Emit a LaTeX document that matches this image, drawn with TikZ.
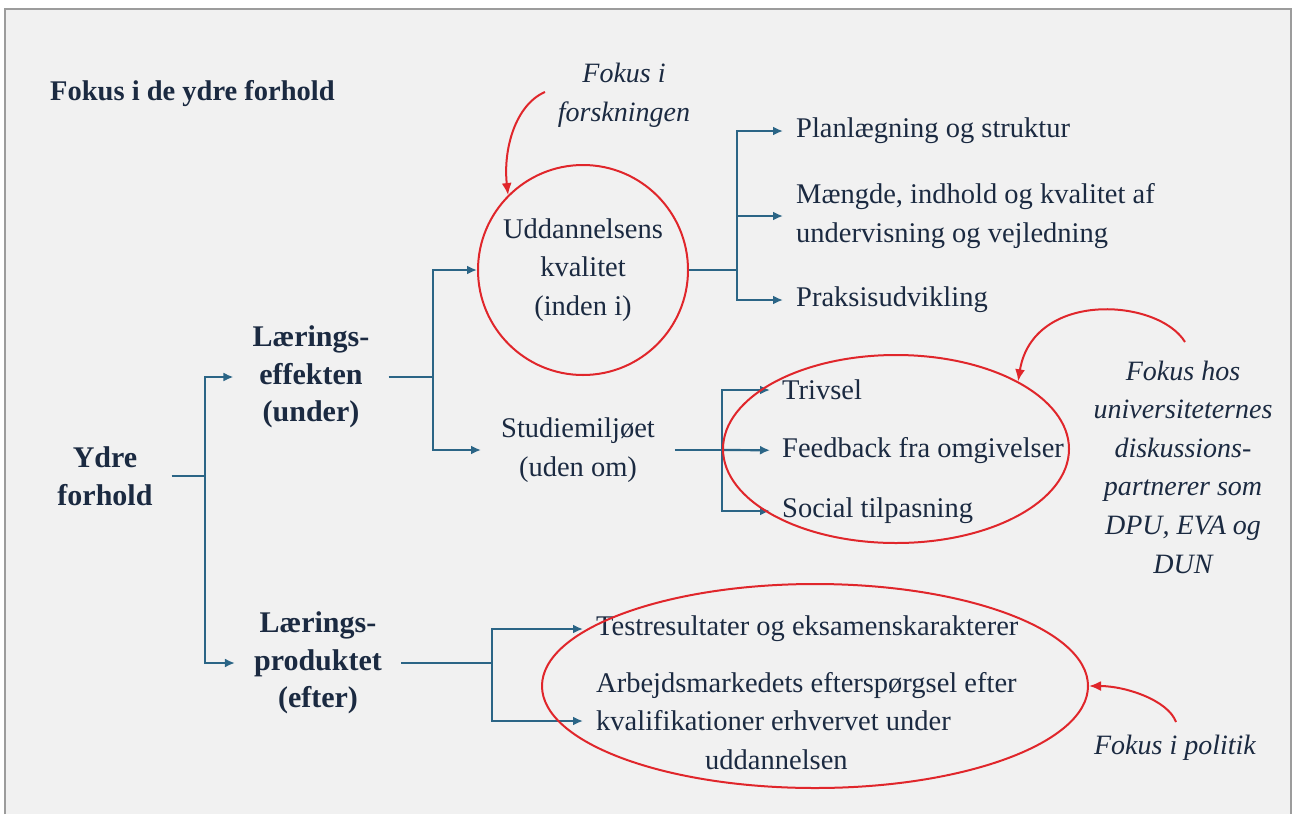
\documentclass[tikz,border=0pt]{standalone}
\usepackage{fontspec}
\setmainfont{Liberation Serif}
\usepackage{tikz}
\usetikzlibrary{shapes, arrows.meta}
\definecolor{ink}{HTML}{1B2A41}
\definecolor{linkblue}{HTML}{2B6586}
\definecolor{focusred}{HTML}{E0262B}
\definecolor{paper}{HTML}{F1F1F1}
\definecolor{rim}{HTML}{9C9C9C}
\tikzstyle{every node}=[text=ink, font=\fontsize{28.5}{38.5}\selectfont]
\tikzstyle{head}=[font=\bfseries\fontsize{30}{37.5}\selectfont, align=center, inner xsep=19pt]
\tikzstyle{mid}=[align=center, inner xsep=20pt]
\tikzstyle{leaf}=[anchor=west, align=left, inner xsep=13pt]
\tikzstyle{note}=[font=\itshape\fontsize{28}{38.6}\selectfont, align=center]
\tikzstyle{link}=[draw=linkblue, line width=2.2pt]
\tikzstyle{ring}=[draw=focusred, line width=2pt]
\tikzstyle{pointer}=[draw=focusred, line width=2pt, -{Latex[length=12pt,width=10pt]}]

\begin{document}
\begin{tikzpicture}[x=1pt,y=-1pt,>={Latex[length=10pt,width=9pt]}]
  \useasboundingbox (0,0) rectangle (1295,814);
  \fill[paper] (5,9) rectangle (1291,814);
  \draw[rim, line width=2pt] (5,814) -- (5,9) -- (1291,9) -- (1291,814);

  \node[anchor=west, inner sep=0pt, font=\bfseries\fontsize{28.5}{34}\selectfont] (title) at (50,94) {Fokus i de ydre forhold};

  % tree
  \node[head] (ydre) at (105,476) {Ydre\\forhold};
  \node[head] (effekt) at (311,377) {Lærings-\\effekten\\(under)};
  \node[head] (produkt) at (318,663) {Lærings-\\produktet\\(efter)};
  \node[circle, ring, minimum size=210pt, align=center, inner sep=0pt] (kval) at (583,270) {Uddannelsens\\kvalitet\\(inden i)};
  \node[mid] (studie) at (578,450) {Studiemiljøet\\(uden om)};
  \node[leaf] (plan) at (783,131) {Planlægning og struktur};
  \node[leaf] (maengde) at (783,216) {Mængde, indhold og kvalitet af\\undervisning og vejledning};
  \node[leaf] (praksis) at (783,300) {Praksisudvikling};
  \node[leaf, inner xsep=12pt] (trivsel) at (770,390) {Trivsel};
  \node[leaf, inner xsep=12pt] (feedback) at (770,451) {Feedback fra omgivelser};
  \node[leaf, inner xsep=12pt] (social) at (770,511) {Social tilpasning};
  \node[leaf] (test) at (583,629) {Testresultater og eksamenskarakterer};
  \node[leaf] (arbejd) at (583,721) {Arbejdsmarkedets efterspørgsel efter\\kvalifikationer erhvervet under\\\hspace*{109pt}uddannelsen};

  \coordinate (j1) at (205,476);
  \coordinate (j2) at (433,377);
  \coordinate (j3) at (737,270);
  \coordinate (j4) at (722,450);
  \coordinate (j5) at (492,663);

  \draw[link] (ydre) -- (j1);
  \draw[link,->] (j1) |- (effekt);
  \draw[link,->] (j1) |- (produkt);
  \draw[link] (effekt) -- (j2);
  \draw[link,->] (j2) |- (kval);
  \draw[link,->] (j2) |- (studie);
  \draw[link] (kval) -- (j3);
  \draw[link,->] (j3) |- (plan);
  \draw[link,->] (j3) |- (maengde);
  \draw[link,->] (j3) |- (praksis);
  \draw[link] (studie) -- (j4);
  \draw[link,->] (j4) |- (trivsel);
  \draw[link,->] (j4) -- (feedback);
  \draw[link,->] (j4) |- (social);
  \draw[link] (produkt) -- (j5);
  \draw[link,->] (j5) |- (test);
  \draw[link,->] (j5) |- (arbejd);

  % focus rings and notes
  \node[ellipse, ring, minimum width=346pt, minimum height=188pt] (miljoring) at (896,449) {};
  \node[ellipse, ring, minimum width=546pt, minimum height=204pt] (politikring) at (815,686) {};

  \node[note] (forsk) at (624,95) {Fokus i\\forskningen};
  \node[note] (hos) at (1183,467) {Fokus hos\\universiteternes\\diskussions-\\partnerer som\\DPU, EVA og\\DUN};
  \node[note] (politik) at (1175,748) {Fokus i politik};

  \coordinate (p1) at (545,92);
  \coordinate (p2) at (1185,342);
  \coordinate (p3) at (1176,722);
  \draw[pointer] (p1) .. controls (515,105) and (503,150) .. (kval.135);
  \draw[pointer] (p2) .. controls (1158,298) and (1033,290) .. (miljoring.29);
  \draw[pointer] (p3) .. controls (1168,700) and (1125,686) .. (politikring.east);
\end{tikzpicture}
\end{document}
